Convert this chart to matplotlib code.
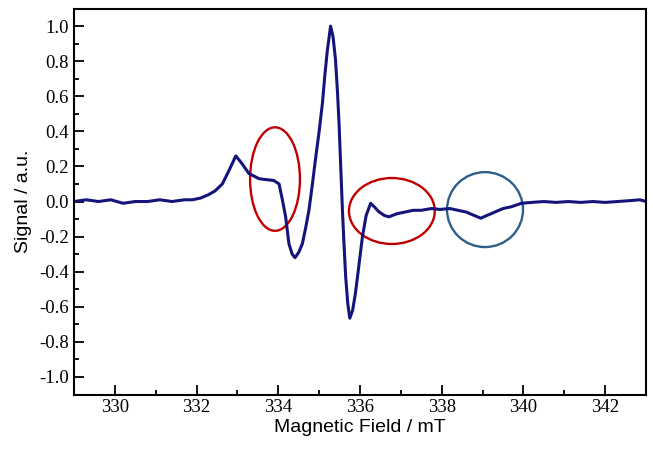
import matplotlib.pyplot as plt
from matplotlib.patches import Ellipse
from matplotlib.ticker import MultipleLocator

# EPR spectrum
field = [329.0, 329.3, 329.6, 329.9, 330.2, 330.5, 330.8, 331.1, 331.4, 331.7,
         331.9, 332.1, 332.3, 332.45, 332.63, 332.8, 332.96, 333.1, 333.28, 333.53,
         333.7, 333.89, 334.02, 334.1, 334.18, 334.26, 334.34, 334.41, 334.5, 334.59,
         334.67, 334.75, 334.83, 334.91, 335.0, 335.08, 335.14, 335.2, 335.28, 335.34,
         335.4, 335.45, 335.49, 335.53, 335.57, 335.61, 335.65, 335.7, 335.75, 335.82,
         335.89, 335.97, 336.06, 336.15, 336.26, 336.35, 336.46, 336.6, 336.71, 336.9,
         337.1, 337.3, 337.5, 337.75, 337.95, 338.2, 338.4, 338.6, 338.8, 338.96,
         339.1, 339.3, 339.5, 339.7, 339.95, 340.2, 340.5, 340.8, 341.1, 341.4,
         341.7, 342.0, 342.3, 342.6, 342.85, 343.0]
signal = [0.00, 0.01, 0.00, 0.01, -0.01, 0.00, 0.00, 0.01, 0.00, 0.01,
          0.01, 0.02, 0.04, 0.06, 0.10, 0.18, 0.26, 0.22, 0.16, 0.13,
          0.125, 0.12, 0.10, 0.01, -0.087, -0.24, -0.30, -0.32, -0.29, -0.24,
          -0.15, -0.05, 0.09, 0.24, 0.40, 0.56, 0.72, 0.86, 1.00, 0.94,
          0.81, 0.62, 0.43, 0.19, -0.05, -0.25, -0.43, -0.58, -0.665, -0.62,
          -0.52, -0.37, -0.20, -0.08, -0.01, -0.03, -0.058, -0.08, -0.087, -0.07,
          -0.06, -0.05, -0.05, -0.04, -0.045, -0.04, -0.05, -0.06, -0.08, -0.095,
          -0.08, -0.06, -0.04, -0.03, -0.01, -0.005, 0.00, -0.005, 0.00, -0.005,
          0.00, -0.005, 0.00, 0.005, 0.01, 0.00]

# highlighted regions: (x, y, width, height, colour)
marks = [(333.92, 0.128, 1.22, 0.59, '#c00000'),
         (336.78, -0.054, 2.10, 0.376, '#c00000'),
         (339.06, -0.046, 1.86, 0.427, '#2e5f8a')]

fig = plt.figure(figsize=(6.53, 4.5), dpi=100)
ax = fig.add_axes([0.1133, 0.1233, 0.876, 0.8577])

ax.plot(field, signal, color='#14147a', lw=2.2)
for x, y, w, h, c in marks:
    ax.add_patch(Ellipse((x, y), w, h, fill=False, edgecolor=c, lw=1.7))

ax.set_xlim(329, 343)
ax.set_ylim(-1.1, 1.1)
ax.xaxis.set_major_locator(MultipleLocator(2))
ax.xaxis.set_minor_locator(MultipleLocator(1))
ax.yaxis.set_minor_locator(MultipleLocator(0.1))
ax.set_yticks([-1.0, -0.8, -0.6, -0.4, -0.2, 0.0, 0.2, 0.4, 0.6, 0.8, 1.0])
ax.yaxis.set_major_formatter(plt.FormatStrFormatter('%.1f'))
ax.tick_params(which='both', direction='in', width=1.3)
ax.tick_params(which='major', length=7)
ax.tick_params(which='minor', length=3.5)
for lab in ax.get_xticklabels() + ax.get_yticklabels():
    lab.set_family('Liberation Serif')
    lab.set_fontsize(13.5)
for s in ax.spines.values():
    s.set_linewidth(1.5)

ax.set_xlabel('Magnetic Field / mT', family='Liberation Sans', fontsize=14, labelpad=2)
ax.set_ylabel('Signal / a.u.', family='Liberation Sans', fontsize=14, labelpad=5)

fig.savefig('out.png', dpi=100)
